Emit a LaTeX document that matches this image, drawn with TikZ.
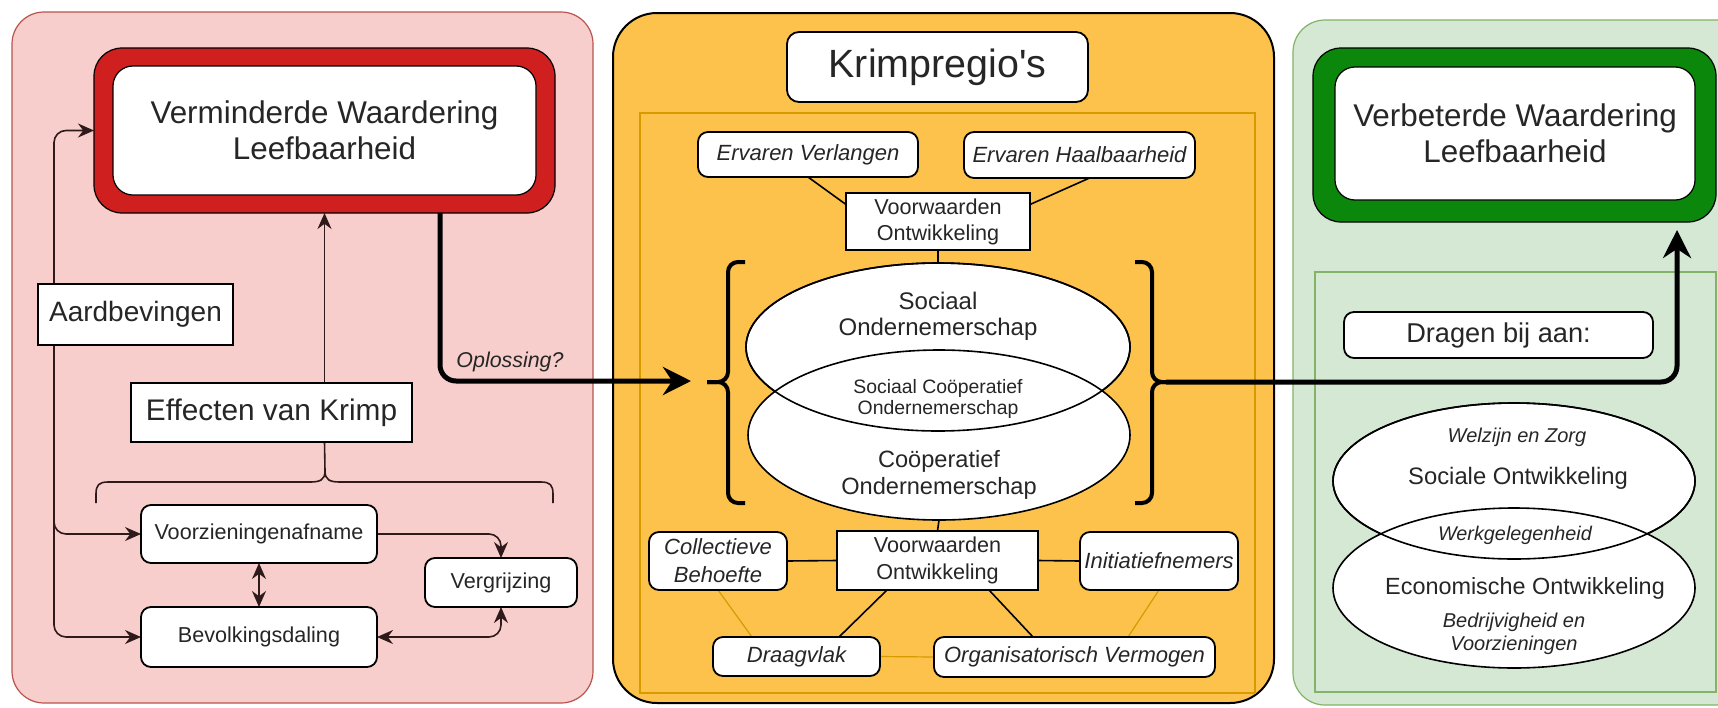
\documentclass[tikz,border=0pt]{standalone}
\usepackage{fontspec}
\setmainfont{Liberation Sans}[Ligatures=TeXOff]
\usetikzlibrary{arrows.meta,shapes.geometric}
\definecolor{pinkfill}{HTML}{F8CECC}
\definecolor{pinkline}{HTML}{B85450}
\definecolor{orfill}{HTML}{FCC24C}
\definecolor{orline}{HTML}{D79B00}
\definecolor{grfill}{HTML}{D5E8D4}
\definecolor{grline}{HTML}{82B366}
\definecolor{redthick}{HTML}{D01F1F}
\definecolor{greenthick}{HTML}{0B870B}
\definecolor{txt}{HTML}{262626}
\definecolor{brownline}{HTML}{2E1A1A}
\pgfdeclarelayer{panel}\pgfdeclarelayer{lines}
\pgfsetlayers{panel,lines,main}
\newcommand\fs[2]{\fontsize{#1}{#2}\selectfont}
\newcommand\placebox[7]{\node[#1, minimum width={(#5-#3)*0.5pt}, minimum height={(#6-#4)*0.5pt}] (#2) at ({(#3+#5)/2},{(#4+#6)/2}) {#7};}
\tikzset{
  every node/.style={text=txt, inner sep=0pt, outer sep=0pt},
  rbox/.style={draw=black, fill=white, line width=0.9pt, rounded corners=5pt, align=center},
  sbox/.style={draw=black, fill=white, line width=0.9pt, align=center},
  outerred/.style={draw=black, fill=redthick, line width=0.6pt, rounded corners=14pt},
  outergreen/.style={draw=black, fill=greenthick, line width=0.6pt, rounded corners=14pt},
  innerbox/.style={draw=black, fill=white, line width=0.6pt, rounded corners=10pt, align=center, font=\fs{15.7}{18}},
  ell/.style={ellipse, draw=black, fill=white, line width=0.8pt},
  ellline/.style={ellipse, draw=black, line width=0.8pt},
  conn/.style={draw=brownline, line width=0.8pt},
  arr/.style={conn, -{Stealth[length=8pt,width=7pt]}},
  dbl/.style={conn, {Stealth[length=8pt,width=7pt]}-{Stealth[length=8pt,width=7pt]}},
  link/.style={draw=black, line width=0.8pt},
  faint/.style={draw=orline, line width=0.6pt},
  brace/.style={draw=black, line width=2pt, rounded corners=5pt},
  bigarr/.style={draw=black, line width=2.5pt, -{Stealth[length=14pt,width=14pt]}},
}
\begin{document}
\begin{tikzpicture}[x=0.5pt,y=-0.5pt]
\useasboundingbox (0,0) rectangle (1718,707);
\begin{pgfonlayer}{panel}
\fill[white] (0,0) rectangle (1718,707);
\draw[fill=pinkfill, draw=pinkline, line width=0.6pt, rounded corners=16pt] (12,12) rectangle (593,703);
\draw[fill=orfill, draw=black, line width=1pt, rounded corners=22pt] (613,13) rectangle (1274,703);
\draw[draw=orline, line width=0.6pt] (640,113) rectangle (1255,693);
\draw[fill=grfill, draw=grline, line width=0.6pt, rounded corners=16pt] (1293,20) rectangle (1780,705);
\draw[draw=grline, line width=0.6pt] (1315,272) rectangle (1716,692);
\end{pgfonlayer}

% left panel
\placebox{outerred}{redbox}{94}{48}{555}{213}{}
\placebox{innerbox}{redtxt}{113}{66}{536}{195}{Verminderde Waardering\\Leefbaarheid}
\placebox{sbox, font=\fs{14}{16}}{aard}{38}{284}{233}{345}{Aardbevingen}
\placebox{sbox, font=\fs{14.9}{17}}{effect}{131}{383}{412}{442}{Effecten van Krimp}
\placebox{rbox, font=\fs{10.8}{12}}{voorz}{141}{505}{377}{563}{Voorzieningenafname}
\placebox{rbox, font=\fs{10.8}{12}}{bevolk}{141}{607}{377}{667}{Bevolkingsdaling}
\placebox{rbox, font=\fs{10.8}{12}}{vergr}{425}{558}{577}{607}{Vergrijzing}
\node[font=\itshape\fs{10.7}{12}] (opl) at (510,361.5) {Oplossing?};
\coordinate (ebtip) at (325,471);
\coordinate (larr) at (691,381);

% middle panel
\placebox{rbox, rounded corners=6pt, font=\fs{19.7}{22}}{krimp}{787}{32}{1088}{102}{Krimpregio's}
\placebox{rbox, font=\itshape\fs{11}{13}}{ev}{698}{132}{918}{177}{Ervaren Verlangen}
\placebox{rbox, font=\itshape\fs{11}{13}}{eh}{964}{132}{1195}{178}{Ervaren Haalbaarheid}
\placebox{sbox, font=\fs{10.8}{13}}{vo1}{846}{193}{1030}{250}{Voorwaarden\\Ontwikkeling}
\node[ell, minimum width=192pt, minimum height=84pt] (so) at (938,347) {};
\node[ell, minimum width=191pt, minimum height=85pt] (co) at (939,435) {};
\node[ellline, minimum width=192pt, minimum height=84pt] (soline) at (938,347) {};
\node[font=\fs{12}{13}, align=center] (sotx) at (938,316) {Sociaal\\Ondernemerschap};
\node[font=\fs{9.7}{10.5}, align=center] (lenstx) at (938,399) {Sociaal Coöperatief\\Ondernemerschap};
\node[font=\fs{11.8}{13.5}, align=center] (cotx) at (939,475) {Coöperatief\\Ondernemerschap};
\placebox{sbox, font=\fs{10.8}{13.5}}{vo2}{837}{531}{1038}{590}{Voorwaarden\\Ontwikkeling}
\placebox{rbox, font=\itshape\fs{11}{14}}{cb}{649}{532}{787}{590}{Collectieve\\Behoefte}
\placebox{rbox, font=\itshape\fs{11}{13}}{init}{1080}{532}{1238}{590}{Initiatiefnemers}
\placebox{rbox, font=\itshape\fs{11}{13}}{drag}{713}{637}{880}{676}{Draagvlak}
\placebox{rbox, font=\itshape\fs{11}{13}}{org}{934}{637}{1215}{677}{Organisatorisch Vermogen}
\coordinate (lbtip) at (707,382);
\coordinate (rbtip) at (1166,382);

% right panel
\placebox{outergreen}{green}{1313}{48}{1716}{222}{}
\placebox{innerbox}{greentxt}{1335}{67}{1695}{200}{Verbeterde Waardering\\Leefbaarheid}
\placebox{rbox, font=\fs{13.6}{15}}{dragen}{1344}{312}{1653}{358}{Dragen bij aan:}
\node[ell, minimum width=181pt, minimum height=78pt] (soce) at (1514,481) {};
\node[ell, minimum width=181pt, minimum height=80pt] (ecoe) at (1514,588) {};
\node[ellline, minimum width=181pt, minimum height=78pt] (soceline) at (1514,481) {};
\node[font=\itshape\fs{10}{11}] (wz) at (1517,437) {Welzijn en Zorg};
\node[font=\fs{11.9}{13}] (sotxt) at (1518,478) {Sociale Ontwikkeling};
\node[font=\itshape\fs{9.9}{11}] (wg) at (1515,535) {Werkgelegenheid};
\node[font=\fs{11.7}{13}] (eotxt) at (1525,588) {Economische Ontwikkeling};
\node[font=\itshape\fs{10}{11.5}, align=center] (bv) at (1514,634) {Bedrijvigheid en\\Voorzieningen};

% braces
\draw[conn] (96,503) -- (96,494) .. controls (96,485) and (99,482) .. (108,482) -- (310,482)
  .. controls (320,482) and (325,480) .. (ebtip) .. controls (325,480) and (330,482) .. (340,482)
  -- (541,482) .. controls (550,482) and (553,485) .. (553,494) -- (553,503);
\draw[brace] (745,262) -- (728,262) -- (728,382) -- (lbtip);
\draw[brace] (lbtip) -- (728,382) -- (728,503) -- (745,503);
\draw[brace] (1135,262) -- (1152,262) -- (1152,382) -- (rbtip);
\draw[brace] (rbtip) -- (1152,382) -- (1152,503) -- (1135,503);

\begin{pgfonlayer}{lines}
\draw[arr] (effect.north -| redbox.south) -- (redbox.south);
\draw[conn] (effect.south -| redbox.south) -- (ebtip);
\draw[arr, rounded corners=6pt] ([xshift=8pt]aard.north west) |- (redbox.west);
\draw[arr, rounded corners=6pt] ([xshift=8pt]aard.south west) |- (voorz.west);
\draw[arr, rounded corners=6pt] ([xshift=8pt]aard.south west) |- (bevolk.west);
\draw[dbl] (voorz) -- (bevolk);
\draw[arr, rounded corners=6pt] (voorz.east) -| (vergr.north);
\draw[dbl, rounded corners=6pt] (bevolk.east) -| (vergr.south);
\draw[bigarr, rounded corners=8pt] ([xshift=57.75pt]redbox.south) |- (larr);
\draw[link] (ev.south) -- ([yshift=8.5pt]vo1.west);
\draw[link] ([xshift=5pt]eh.south) -- ([yshift=8.5pt]vo1.east);
\draw[link] (vo1.south) -- (so.north);
\draw[link] (co.south) -- (vo2.north);
\draw[link] (cb.east) -- (vo2.west);
\draw[link] (vo2.east) -- (init.west);
\draw[link] ([xshift=-25.25pt]vo2.south) -- ([xshift=21.25pt]drag.north);
\draw[link] ([xshift=25.75pt]vo2.south) -- ([xshift=-20.75pt]org.north);
\draw[faint] (cb.south) -- ([xshift=-22.25pt]drag.north);
\draw[faint] (init.south) -- ([xshift=26.75pt]org.north);
\draw[faint] (drag.east) -- (org.west);
\draw[bigarr, rounded corners=8pt, shorten >=4pt] (rbtip) -| ([xshift=81.25pt]green.south);
\end{pgfonlayer}
\end{tikzpicture}
\end{document}
